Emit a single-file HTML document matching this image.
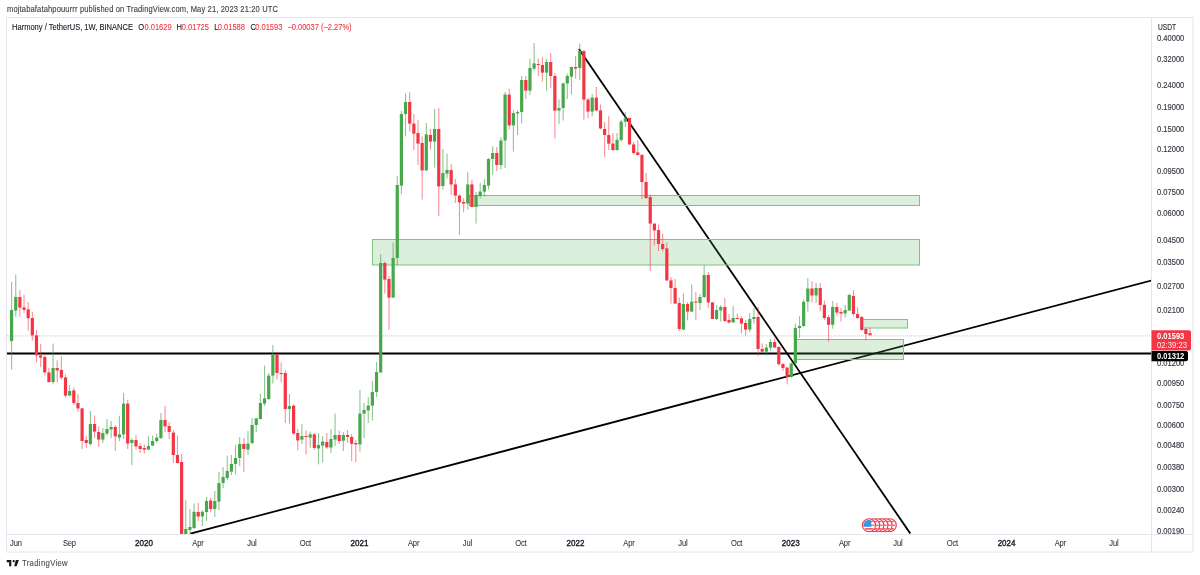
<!DOCTYPE html><html><head><meta charset="utf-8"><title>ONEUSDT chart</title><style>
html,body{margin:0;padding:0;background:#fff;width:1200px;height:575px;overflow:hidden}
svg{display:block;will-change:transform}
text{font-family:"Liberation Sans",sans-serif}
</style></head><body>
<svg width="1200" height="575" viewBox="0 0 1200 575">
<rect width="1200" height="575" fill="#fff"/>
<text transform="scale(0.86,1)" x="8.14" y="12.4" font-size="8.8" fill="#3d3d3d" textLength="315.12" lengthAdjust="spacing" stroke="#3d3d3d" stroke-width="0.12">mojtabafatahpouurrr published on TradingView.com, May 21, 2023 21:20 UTC</text>
<rect x="6.5" y="17.5" width="1186.5" height="534.5" fill="none" stroke="#e4e6ed" stroke-width="1"/>
<line x1="1151.5" y1="17.5" x2="1151.5" y2="552" stroke="#e4e6ed" stroke-width="1"/>
<line x1="6.5" y1="534.5" x2="1193" y2="534.5" stroke="#e4e6ed" stroke-width="1"/>
<defs><clipPath id="plot"><rect x="7" y="18" width="1144" height="516"/></clipPath><clipPath id="pax"><rect x="1152" y="18" width="41" height="516"/></clipPath></defs>
<g clip-path="url(#plot)">
<line x1="7" y1="335.9" x2="1151" y2="335.9" stroke="#f23645" stroke-opacity="0.4" stroke-width="1" stroke-dasharray="1 1"/>
<line x1="7" y1="353.4" x2="1151" y2="353.4" stroke="#000" stroke-width="2"/>
<line x1="190.3" y1="533.7" x2="1151.3" y2="280.5" stroke="#000" stroke-width="1.8"/>
<line x1="578.9" y1="49" x2="910.3" y2="533.6" stroke="#000" stroke-width="1.8"/>
<rect x="372.5" y="239.5" width="547.0" height="25.5" fill="rgba(76,175,80,0.2)" stroke="#7cc47f" stroke-width="1"/>
<rect x="469.5" y="195.5" width="450.0" height="10.0" fill="rgba(76,175,80,0.2)" stroke="#7cc47f" stroke-width="1"/>
<rect x="796.5" y="339.5" width="107.0" height="20.0" fill="rgba(76,175,80,0.2)" stroke="#7cc47f" stroke-width="1"/>
<rect x="862.5" y="319.5" width="45.0" height="8.5" fill="rgba(76,175,80,0.2)" stroke="#7cc47f" stroke-width="1"/>
<rect x="11.05" y="282.0" width="1.1" height="87.6" fill="rgba(67,160,71,0.6)"/>
<rect x="10.0" y="310.0" width="3.2" height="31.0" fill="#47a84b"/>
<rect x="15.19" y="274.6" width="1.1" height="42.0" fill="rgba(67,160,71,0.6)"/>
<rect x="14.14" y="297.0" width="3.2" height="13.6" fill="#47a84b"/>
<rect x="19.34" y="290.0" width="1.1" height="26.6" fill="rgba(242,54,69,0.55)"/>
<rect x="18.29" y="297.0" width="3.2" height="10.6" fill="#f23645"/>
<rect x="23.49" y="295.0" width="1.1" height="18.0" fill="rgba(242,54,69,0.55)"/>
<rect x="22.44" y="307.4" width="3.2" height="2.4" fill="#f23645"/>
<rect x="27.63" y="302.0" width="1.1" height="28.6" fill="rgba(242,54,69,0.55)"/>
<rect x="26.58" y="309.4" width="3.2" height="8.8" fill="#f23645"/>
<rect x="31.78" y="312.0" width="1.1" height="28.6" fill="rgba(242,54,69,0.55)"/>
<rect x="30.73" y="318.0" width="3.2" height="17.4" fill="#f23645"/>
<rect x="35.93" y="330.0" width="1.1" height="32.4" fill="rgba(242,54,69,0.55)"/>
<rect x="34.88" y="335.4" width="3.2" height="20.0" fill="#f23645"/>
<rect x="40.08" y="344.0" width="1.1" height="23.0" fill="rgba(242,54,69,0.55)"/>
<rect x="39.02" y="355.4" width="3.2" height="2.2" fill="#f23645"/>
<rect x="44.22" y="354.0" width="1.1" height="21.6" fill="rgba(242,54,69,0.55)"/>
<rect x="43.17" y="357.0" width="3.2" height="15.4" fill="#f23645"/>
<rect x="48.37" y="368.0" width="1.1" height="15.0" fill="rgba(242,54,69,0.55)"/>
<rect x="47.32" y="372.4" width="3.2" height="9.6" fill="#f23645"/>
<rect x="52.52" y="343.6" width="1.1" height="40.8" fill="rgba(67,160,71,0.6)"/>
<rect x="51.47" y="368.0" width="3.2" height="14.0" fill="#47a84b"/>
<rect x="56.66" y="360.4" width="1.1" height="22.0" fill="rgba(242,54,69,0.55)"/>
<rect x="55.61" y="368.0" width="3.2" height="2.4" fill="#f23645"/>
<rect x="60.81" y="356.4" width="1.1" height="23.2" fill="rgba(242,54,69,0.55)"/>
<rect x="59.76" y="370.0" width="3.2" height="7.6" fill="#f23645"/>
<rect x="64.96" y="374.4" width="1.1" height="23.2" fill="rgba(242,54,69,0.55)"/>
<rect x="63.91" y="377.4" width="3.2" height="18.2" fill="#f23645"/>
<rect x="69.1" y="385.0" width="1.1" height="11.0" fill="rgba(67,160,71,0.6)"/>
<rect x="68.05" y="391.0" width="3.2" height="4.6" fill="#47a84b"/>
<rect x="73.25" y="387.4" width="1.1" height="17.6" fill="rgba(242,54,69,0.55)"/>
<rect x="72.2" y="390.4" width="3.2" height="12.6" fill="#f23645"/>
<rect x="77.4" y="394.4" width="1.1" height="17.2" fill="rgba(242,54,69,0.55)"/>
<rect x="76.35" y="403.0" width="3.2" height="5.4" fill="#f23645"/>
<rect x="81.55" y="408.0" width="1.1" height="41.0" fill="rgba(242,54,69,0.55)"/>
<rect x="80.5" y="408.4" width="3.2" height="32.6" fill="#f23645"/>
<rect x="85.69" y="436.0" width="1.1" height="12.0" fill="rgba(242,54,69,0.55)"/>
<rect x="84.64" y="440.0" width="3.2" height="3.0" fill="#f23645"/>
<rect x="89.84" y="411.0" width="1.1" height="34.6" fill="rgba(67,160,71,0.6)"/>
<rect x="88.79" y="424.0" width="3.2" height="20.0" fill="#47a84b"/>
<rect x="93.99" y="415.6" width="1.1" height="22.4" fill="rgba(242,54,69,0.55)"/>
<rect x="92.94" y="424.0" width="3.2" height="7.6" fill="#f23645"/>
<rect x="98.13" y="426.4" width="1.1" height="20.6" fill="rgba(242,54,69,0.55)"/>
<rect x="97.08" y="432.0" width="3.2" height="7.6" fill="#f23645"/>
<rect x="102.28" y="428.0" width="1.1" height="15.0" fill="rgba(67,160,71,0.6)"/>
<rect x="101.23" y="433.0" width="3.2" height="6.6" fill="#47a84b"/>
<rect x="106.43" y="419.0" width="1.1" height="16.6" fill="rgba(67,160,71,0.6)"/>
<rect x="105.38" y="429.0" width="3.2" height="4.6" fill="#47a84b"/>
<rect x="110.57" y="421.0" width="1.1" height="17.0" fill="rgba(67,160,71,0.6)"/>
<rect x="109.52" y="427.0" width="3.2" height="2.4" fill="#47a84b"/>
<rect x="114.72" y="425.0" width="1.1" height="26.0" fill="rgba(242,54,69,0.55)"/>
<rect x="113.67" y="427.0" width="3.2" height="9.4" fill="#f23645"/>
<rect x="118.87" y="416.0" width="1.1" height="25.0" fill="rgba(67,160,71,0.6)"/>
<rect x="117.82" y="434.4" width="3.2" height="3.2" fill="#47a84b"/>
<rect x="123.02" y="393.0" width="1.1" height="46.0" fill="rgba(67,160,71,0.6)"/>
<rect x="121.97" y="403.6" width="3.2" height="30.8" fill="#47a84b"/>
<rect x="127.16" y="400.0" width="1.1" height="49.0" fill="rgba(242,54,69,0.55)"/>
<rect x="126.11" y="403.6" width="3.2" height="40.0" fill="#f23645"/>
<rect x="131.31" y="438.0" width="1.1" height="27.0" fill="rgba(67,160,71,0.6)"/>
<rect x="130.26" y="440.0" width="3.2" height="3.0" fill="#47a84b"/>
<rect x="135.46" y="435.0" width="1.1" height="14.6" fill="rgba(242,54,69,0.55)"/>
<rect x="134.41" y="440.0" width="3.2" height="6.4" fill="#f23645"/>
<rect x="139.6" y="443.6" width="1.1" height="9.4" fill="rgba(242,54,69,0.55)"/>
<rect x="138.55" y="446.0" width="3.2" height="3.0" fill="#f23645"/>
<rect x="143.75" y="444.4" width="1.1" height="9.2" fill="rgba(242,54,69,0.55)"/>
<rect x="142.7" y="448.0" width="3.2" height="1.6" fill="#f23645"/>
<rect x="147.9" y="436.0" width="1.1" height="14.0" fill="rgba(67,160,71,0.6)"/>
<rect x="146.85" y="446.0" width="3.2" height="3.6" fill="#47a84b"/>
<rect x="152.04" y="435.6" width="1.1" height="10.4" fill="rgba(67,160,71,0.6)"/>
<rect x="150.99" y="441.0" width="3.2" height="4.6" fill="#47a84b"/>
<rect x="156.19" y="433.6" width="1.1" height="9.4" fill="rgba(67,160,71,0.6)"/>
<rect x="155.14" y="437.6" width="3.2" height="3.4" fill="#47a84b"/>
<rect x="160.34" y="413.0" width="1.1" height="26.0" fill="rgba(67,160,71,0.6)"/>
<rect x="159.29" y="420.0" width="3.2" height="18.0" fill="#47a84b"/>
<rect x="164.49" y="406.0" width="1.1" height="26.4" fill="rgba(242,54,69,0.55)"/>
<rect x="163.44" y="420.0" width="3.2" height="6.4" fill="#f23645"/>
<rect x="168.63" y="422.0" width="1.1" height="17.0" fill="rgba(242,54,69,0.55)"/>
<rect x="167.58" y="426.0" width="3.2" height="6.0" fill="#f23645"/>
<rect x="172.78" y="430.0" width="1.1" height="33.0" fill="rgba(242,54,69,0.55)"/>
<rect x="171.73" y="432.6" width="3.2" height="22.4" fill="#f23645"/>
<rect x="176.93" y="435.6" width="1.1" height="28.0" fill="rgba(242,54,69,0.55)"/>
<rect x="175.88" y="455.0" width="3.2" height="8.0" fill="#f23645"/>
<rect x="181.07" y="454.0" width="1.1" height="80.0" fill="rgba(242,54,69,0.55)"/>
<rect x="180.02" y="462.0" width="3.2" height="72.0" fill="#f23645"/>
<rect x="185.22" y="500.0" width="1.1" height="34.0" fill="rgba(67,160,71,0.6)"/>
<rect x="184.17" y="529.0" width="3.2" height="5.0" fill="#47a84b"/>
<rect x="189.37" y="509.0" width="1.1" height="25.0" fill="rgba(67,160,71,0.6)"/>
<rect x="188.32" y="527.0" width="3.2" height="3.0" fill="#47a84b"/>
<rect x="193.51" y="503.6" width="1.1" height="25.4" fill="rgba(67,160,71,0.6)"/>
<rect x="192.46" y="511.8" width="3.2" height="16.2" fill="#47a84b"/>
<rect x="197.66" y="503.0" width="1.1" height="18.0" fill="rgba(242,54,69,0.55)"/>
<rect x="196.61" y="512.0" width="3.2" height="4.5" fill="#f23645"/>
<rect x="201.81" y="510.0" width="1.1" height="16.0" fill="rgba(67,160,71,0.6)"/>
<rect x="200.76" y="511.8" width="3.2" height="4.7" fill="#47a84b"/>
<rect x="205.96" y="497.0" width="1.1" height="24.0" fill="rgba(67,160,71,0.6)"/>
<rect x="204.91" y="501.0" width="3.2" height="11.0" fill="#47a84b"/>
<rect x="210.1" y="498.0" width="1.1" height="14.5" fill="rgba(242,54,69,0.55)"/>
<rect x="209.05" y="500.5" width="3.2" height="8.5" fill="#f23645"/>
<rect x="214.25" y="491.0" width="1.1" height="26.0" fill="rgba(67,160,71,0.6)"/>
<rect x="213.2" y="501.0" width="3.2" height="8.0" fill="#47a84b"/>
<rect x="218.4" y="472.0" width="1.1" height="38.0" fill="rgba(67,160,71,0.6)"/>
<rect x="217.35" y="483.0" width="3.2" height="18.6" fill="#47a84b"/>
<rect x="222.54" y="467.0" width="1.1" height="21.0" fill="rgba(67,160,71,0.6)"/>
<rect x="221.49" y="477.0" width="3.2" height="6.0" fill="#47a84b"/>
<rect x="226.69" y="455.6" width="1.1" height="24.4" fill="rgba(67,160,71,0.6)"/>
<rect x="225.64" y="471.0" width="3.2" height="7.0" fill="#47a84b"/>
<rect x="230.84" y="455.0" width="1.1" height="20.0" fill="rgba(67,160,71,0.6)"/>
<rect x="229.79" y="464.0" width="3.2" height="7.6" fill="#47a84b"/>
<rect x="234.98" y="445.0" width="1.1" height="29.4" fill="rgba(67,160,71,0.6)"/>
<rect x="233.93" y="458.0" width="3.2" height="6.0" fill="#47a84b"/>
<rect x="239.13" y="437.0" width="1.1" height="29.0" fill="rgba(67,160,71,0.6)"/>
<rect x="238.08" y="444.0" width="3.2" height="14.0" fill="#47a84b"/>
<rect x="243.28" y="438.0" width="1.1" height="34.0" fill="rgba(242,54,69,0.55)"/>
<rect x="242.23" y="444.0" width="3.2" height="5.0" fill="#f23645"/>
<rect x="247.43" y="431.0" width="1.1" height="24.0" fill="rgba(67,160,71,0.6)"/>
<rect x="246.38" y="443.6" width="3.2" height="6.0" fill="#47a84b"/>
<rect x="251.57" y="418.0" width="1.1" height="26.4" fill="rgba(67,160,71,0.6)"/>
<rect x="250.52" y="425.0" width="3.2" height="18.0" fill="#47a84b"/>
<rect x="255.72" y="418.0" width="1.1" height="14.0" fill="rgba(67,160,71,0.6)"/>
<rect x="254.67" y="418.4" width="3.2" height="6.6" fill="#47a84b"/>
<rect x="259.87" y="394.0" width="1.1" height="25.6" fill="rgba(67,160,71,0.6)"/>
<rect x="258.82" y="403.0" width="3.2" height="16.0" fill="#47a84b"/>
<rect x="264.01" y="365.6" width="1.1" height="40.4" fill="rgba(67,160,71,0.6)"/>
<rect x="262.96" y="398.4" width="3.2" height="5.2" fill="#47a84b"/>
<rect x="268.16" y="373.0" width="1.1" height="27.0" fill="rgba(67,160,71,0.6)"/>
<rect x="267.11" y="375.6" width="3.2" height="23.4" fill="#47a84b"/>
<rect x="272.31" y="345.0" width="1.1" height="38.6" fill="rgba(67,160,71,0.6)"/>
<rect x="271.26" y="354.0" width="3.2" height="21.6" fill="#47a84b"/>
<rect x="276.45" y="354.0" width="1.1" height="25.6" fill="rgba(242,54,69,0.55)"/>
<rect x="275.4" y="354.0" width="3.2" height="19.0" fill="#f23645"/>
<rect x="280.6" y="362.4" width="1.1" height="20.0" fill="rgba(242,54,69,0.55)"/>
<rect x="279.55" y="373.0" width="3.2" height="1.0" fill="#f23645"/>
<rect x="284.75" y="370.0" width="1.1" height="53.0" fill="rgba(242,54,69,0.55)"/>
<rect x="283.7" y="373.0" width="3.2" height="36.0" fill="#f23645"/>
<rect x="288.9" y="394.0" width="1.1" height="29.6" fill="rgba(67,160,71,0.6)"/>
<rect x="287.85" y="406.0" width="3.2" height="3.0" fill="#47a84b"/>
<rect x="293.04" y="404.4" width="1.1" height="30.0" fill="rgba(242,54,69,0.55)"/>
<rect x="291.99" y="405.6" width="3.2" height="28.0" fill="#f23645"/>
<rect x="297.19" y="429.0" width="1.1" height="21.4" fill="rgba(242,54,69,0.55)"/>
<rect x="296.14" y="433.0" width="3.2" height="7.4" fill="#f23645"/>
<rect x="301.34" y="424.0" width="1.1" height="20.0" fill="rgba(67,160,71,0.6)"/>
<rect x="300.29" y="436.0" width="3.2" height="3.6" fill="#47a84b"/>
<rect x="305.48" y="430.4" width="1.1" height="24.1" fill="rgba(242,54,69,0.55)"/>
<rect x="304.43" y="436.0" width="3.2" height="1.0" fill="#f23645"/>
<rect x="309.63" y="431.6" width="1.1" height="16.0" fill="rgba(67,160,71,0.6)"/>
<rect x="308.58" y="434.4" width="3.2" height="3.2" fill="#47a84b"/>
<rect x="313.78" y="433.0" width="1.1" height="17.0" fill="rgba(242,54,69,0.55)"/>
<rect x="312.73" y="434.4" width="3.2" height="13.6" fill="#f23645"/>
<rect x="317.92" y="433.0" width="1.1" height="31.4" fill="rgba(67,160,71,0.6)"/>
<rect x="316.87" y="445.0" width="3.2" height="3.5" fill="#47a84b"/>
<rect x="322.07" y="436.0" width="1.1" height="26.4" fill="rgba(67,160,71,0.6)"/>
<rect x="321.02" y="441.6" width="3.2" height="4.0" fill="#47a84b"/>
<rect x="326.22" y="433.0" width="1.1" height="16.0" fill="rgba(242,54,69,0.55)"/>
<rect x="325.17" y="442.0" width="3.2" height="5.4" fill="#f23645"/>
<rect x="330.37" y="429.0" width="1.1" height="24.0" fill="rgba(67,160,71,0.6)"/>
<rect x="329.31" y="439.0" width="3.2" height="8.5" fill="#47a84b"/>
<rect x="334.51" y="413.6" width="1.1" height="32.4" fill="rgba(67,160,71,0.6)"/>
<rect x="333.46" y="435.0" width="3.2" height="4.5" fill="#47a84b"/>
<rect x="338.66" y="430.4" width="1.1" height="13.4" fill="rgba(242,54,69,0.55)"/>
<rect x="337.61" y="435.0" width="3.2" height="6.0" fill="#f23645"/>
<rect x="342.81" y="432.0" width="1.1" height="19.0" fill="rgba(67,160,71,0.6)"/>
<rect x="341.76" y="435.0" width="3.2" height="5.7" fill="#47a84b"/>
<rect x="346.95" y="430.0" width="1.1" height="13.0" fill="rgba(242,54,69,0.55)"/>
<rect x="345.9" y="435.0" width="3.2" height="2.0" fill="#f23645"/>
<rect x="351.1" y="434.0" width="1.1" height="27.0" fill="rgba(242,54,69,0.55)"/>
<rect x="350.05" y="437.0" width="3.2" height="6.8" fill="#f23645"/>
<rect x="355.25" y="440.0" width="1.1" height="22.0" fill="rgba(242,54,69,0.55)"/>
<rect x="354.2" y="443.0" width="3.2" height="1.4" fill="#f23645"/>
<rect x="359.39" y="390.0" width="1.1" height="61.6" fill="rgba(67,160,71,0.6)"/>
<rect x="358.34" y="413.6" width="3.2" height="30.8" fill="#47a84b"/>
<rect x="363.54" y="403.0" width="1.1" height="35.0" fill="rgba(67,160,71,0.6)"/>
<rect x="362.49" y="410.0" width="3.2" height="3.6" fill="#47a84b"/>
<rect x="367.69" y="397.0" width="1.1" height="26.0" fill="rgba(67,160,71,0.6)"/>
<rect x="366.64" y="405.6" width="3.2" height="4.8" fill="#47a84b"/>
<rect x="371.83" y="381.0" width="1.1" height="39.4" fill="rgba(67,160,71,0.6)"/>
<rect x="370.78" y="392.0" width="3.2" height="13.6" fill="#47a84b"/>
<rect x="375.98" y="362.0" width="1.1" height="35.0" fill="rgba(67,160,71,0.6)"/>
<rect x="374.93" y="372.0" width="3.2" height="20.0" fill="#47a84b"/>
<rect x="380.13" y="254.0" width="1.1" height="119.0" fill="rgba(67,160,71,0.6)"/>
<rect x="379.08" y="263.0" width="3.2" height="109.4" fill="#47a84b"/>
<rect x="384.28" y="261.6" width="1.1" height="32.0" fill="rgba(242,54,69,0.55)"/>
<rect x="383.23" y="263.0" width="3.2" height="16.6" fill="#f23645"/>
<rect x="388.42" y="276.0" width="1.1" height="53.6" fill="rgba(242,54,69,0.55)"/>
<rect x="387.37" y="279.0" width="3.2" height="18.6" fill="#f23645"/>
<rect x="392.57" y="242.4" width="1.1" height="55.6" fill="rgba(67,160,71,0.6)"/>
<rect x="391.52" y="258.0" width="3.2" height="39.6" fill="#47a84b"/>
<rect x="396.72" y="176.0" width="1.1" height="89.0" fill="rgba(67,160,71,0.6)"/>
<rect x="395.67" y="185.0" width="3.2" height="73.0" fill="#47a84b"/>
<rect x="400.86" y="111.0" width="1.1" height="83.0" fill="rgba(67,160,71,0.6)"/>
<rect x="399.81" y="114.0" width="3.2" height="71.6" fill="#47a84b"/>
<rect x="405.01" y="93.6" width="1.1" height="42.8" fill="rgba(67,160,71,0.6)"/>
<rect x="403.96" y="102.0" width="3.2" height="12.0" fill="#47a84b"/>
<rect x="409.16" y="92.0" width="1.1" height="39.6" fill="rgba(242,54,69,0.55)"/>
<rect x="408.11" y="102.0" width="3.2" height="21.6" fill="#f23645"/>
<rect x="413.31" y="114.0" width="1.1" height="36.0" fill="rgba(242,54,69,0.55)"/>
<rect x="412.25" y="123.6" width="3.2" height="10.0" fill="#f23645"/>
<rect x="417.45" y="120.0" width="1.1" height="45.0" fill="rgba(242,54,69,0.55)"/>
<rect x="416.4" y="133.0" width="3.2" height="10.6" fill="#f23645"/>
<rect x="421.6" y="136.4" width="1.1" height="63.2" fill="rgba(242,54,69,0.55)"/>
<rect x="420.55" y="143.0" width="3.2" height="27.4" fill="#f23645"/>
<rect x="425.75" y="123.0" width="1.1" height="48.0" fill="rgba(67,160,71,0.6)"/>
<rect x="424.7" y="134.4" width="3.2" height="36.0" fill="#47a84b"/>
<rect x="429.89" y="129.0" width="1.1" height="20.6" fill="rgba(242,54,69,0.55)"/>
<rect x="428.84" y="135.0" width="3.2" height="6.6" fill="#f23645"/>
<rect x="434.04" y="109.0" width="1.1" height="58.6" fill="rgba(67,160,71,0.6)"/>
<rect x="432.99" y="129.0" width="3.2" height="12.6" fill="#47a84b"/>
<rect x="438.19" y="108.0" width="1.1" height="108.0" fill="rgba(242,54,69,0.55)"/>
<rect x="437.14" y="129.0" width="3.2" height="57.4" fill="#f23645"/>
<rect x="442.33" y="149.0" width="1.1" height="40.6" fill="rgba(67,160,71,0.6)"/>
<rect x="441.28" y="173.0" width="3.2" height="13.0" fill="#47a84b"/>
<rect x="446.48" y="153.6" width="1.1" height="24.8" fill="rgba(67,160,71,0.6)"/>
<rect x="445.43" y="170.0" width="3.2" height="3.6" fill="#47a84b"/>
<rect x="450.63" y="164.0" width="1.1" height="31.0" fill="rgba(242,54,69,0.55)"/>
<rect x="449.58" y="170.0" width="3.2" height="14.4" fill="#f23645"/>
<rect x="454.78" y="179.0" width="1.1" height="24.0" fill="rgba(242,54,69,0.55)"/>
<rect x="453.73" y="184.4" width="3.2" height="11.2" fill="#f23645"/>
<rect x="458.92" y="194.4" width="1.1" height="40.6" fill="rgba(242,54,69,0.55)"/>
<rect x="457.87" y="195.6" width="3.2" height="6.8" fill="#f23645"/>
<rect x="463.07" y="198.0" width="1.1" height="14.4" fill="rgba(242,54,69,0.55)"/>
<rect x="462.02" y="202.0" width="3.2" height="1.6" fill="#f23645"/>
<rect x="467.22" y="172.0" width="1.1" height="37.6" fill="rgba(67,160,71,0.6)"/>
<rect x="466.17" y="184.4" width="3.2" height="19.2" fill="#47a84b"/>
<rect x="471.36" y="179.6" width="1.1" height="27.4" fill="rgba(242,54,69,0.55)"/>
<rect x="470.31" y="184.4" width="3.2" height="22.6" fill="#f23645"/>
<rect x="475.51" y="192.0" width="1.1" height="31.6" fill="rgba(67,160,71,0.6)"/>
<rect x="474.46" y="195.0" width="3.2" height="12.0" fill="#47a84b"/>
<rect x="479.66" y="183.0" width="1.1" height="15.4" fill="rgba(67,160,71,0.6)"/>
<rect x="478.61" y="191.6" width="3.2" height="4.4" fill="#47a84b"/>
<rect x="483.8" y="179.0" width="1.1" height="17.4" fill="rgba(67,160,71,0.6)"/>
<rect x="482.75" y="185.0" width="3.2" height="6.6" fill="#47a84b"/>
<rect x="487.95" y="158.0" width="1.1" height="31.6" fill="rgba(67,160,71,0.6)"/>
<rect x="486.9" y="159.0" width="3.2" height="26.6" fill="#47a84b"/>
<rect x="492.1" y="146.4" width="1.1" height="28.6" fill="rgba(67,160,71,0.6)"/>
<rect x="491.05" y="153.0" width="3.2" height="6.0" fill="#47a84b"/>
<rect x="496.25" y="147.0" width="1.1" height="24.0" fill="rgba(242,54,69,0.55)"/>
<rect x="495.19" y="153.0" width="3.2" height="12.0" fill="#f23645"/>
<rect x="500.39" y="137.3" width="1.1" height="32.3" fill="rgba(67,160,71,0.6)"/>
<rect x="499.34" y="140.5" width="3.2" height="24.5" fill="#47a84b"/>
<rect x="504.54" y="92.0" width="1.1" height="76.0" fill="rgba(67,160,71,0.6)"/>
<rect x="503.49" y="94.6" width="3.2" height="45.9" fill="#47a84b"/>
<rect x="508.69" y="89.0" width="1.1" height="40.4" fill="rgba(242,54,69,0.55)"/>
<rect x="507.64" y="94.6" width="3.2" height="30.8" fill="#f23645"/>
<rect x="512.83" y="110.6" width="1.1" height="41.0" fill="rgba(67,160,71,0.6)"/>
<rect x="511.78" y="113.0" width="3.2" height="12.4" fill="#47a84b"/>
<rect x="516.98" y="110.0" width="1.1" height="25.0" fill="rgba(67,160,71,0.6)"/>
<rect x="515.93" y="112.0" width="3.2" height="1.4" fill="#47a84b"/>
<rect x="521.13" y="76.0" width="1.1" height="47.4" fill="rgba(67,160,71,0.6)"/>
<rect x="520.08" y="80.0" width="3.2" height="32.0" fill="#47a84b"/>
<rect x="525.27" y="76.0" width="1.1" height="23.0" fill="rgba(242,54,69,0.55)"/>
<rect x="524.22" y="80.0" width="3.2" height="10.6" fill="#f23645"/>
<rect x="529.42" y="58.6" width="1.1" height="36.4" fill="rgba(67,160,71,0.6)"/>
<rect x="528.37" y="68.0" width="3.2" height="22.6" fill="#47a84b"/>
<rect x="533.57" y="43.0" width="1.1" height="27.6" fill="rgba(67,160,71,0.6)"/>
<rect x="532.52" y="63.4" width="3.2" height="5.2" fill="#47a84b"/>
<rect x="537.72" y="58.6" width="1.1" height="17.4" fill="rgba(242,54,69,0.55)"/>
<rect x="536.67" y="64.0" width="3.2" height="1.0" fill="#f23645"/>
<rect x="541.86" y="57.0" width="1.1" height="24.4" fill="rgba(242,54,69,0.55)"/>
<rect x="540.81" y="65.0" width="3.2" height="7.6" fill="#f23645"/>
<rect x="546.01" y="59.0" width="1.1" height="31.6" fill="rgba(67,160,71,0.6)"/>
<rect x="544.96" y="62.0" width="3.2" height="10.6" fill="#47a84b"/>
<rect x="550.16" y="53.0" width="1.1" height="35.0" fill="rgba(242,54,69,0.55)"/>
<rect x="549.11" y="62.0" width="3.2" height="14.0" fill="#f23645"/>
<rect x="554.3" y="73.0" width="1.1" height="65.6" fill="rgba(242,54,69,0.55)"/>
<rect x="553.25" y="76.0" width="3.2" height="34.6" fill="#f23645"/>
<rect x="558.45" y="99.4" width="1.1" height="24.6" fill="rgba(67,160,71,0.6)"/>
<rect x="557.4" y="108.0" width="3.2" height="2.6" fill="#47a84b"/>
<rect x="562.6" y="82.6" width="1.1" height="38.0" fill="rgba(67,160,71,0.6)"/>
<rect x="561.55" y="83.4" width="3.2" height="24.6" fill="#47a84b"/>
<rect x="566.74" y="73.4" width="1.1" height="25.6" fill="rgba(67,160,71,0.6)"/>
<rect x="565.69" y="76.0" width="3.2" height="7.4" fill="#47a84b"/>
<rect x="570.89" y="66.6" width="1.1" height="28.0" fill="rgba(67,160,71,0.6)"/>
<rect x="569.84" y="67.0" width="3.2" height="9.6" fill="#47a84b"/>
<rect x="575.04" y="56.0" width="1.1" height="22.6" fill="rgba(242,54,69,0.55)"/>
<rect x="573.99" y="67.0" width="3.2" height="1.6" fill="#f23645"/>
<rect x="579.19" y="43.6" width="1.1" height="36.4" fill="rgba(67,160,71,0.6)"/>
<rect x="578.13" y="51.0" width="3.2" height="17.0" fill="#47a84b"/>
<rect x="583.33" y="50.0" width="1.1" height="69.6" fill="rgba(242,54,69,0.55)"/>
<rect x="582.28" y="51.0" width="3.2" height="48.6" fill="#f23645"/>
<rect x="587.48" y="98.0" width="1.1" height="20.4" fill="rgba(242,54,69,0.55)"/>
<rect x="586.43" y="99.6" width="3.2" height="12.0" fill="#f23645"/>
<rect x="591.63" y="94.0" width="1.1" height="22.4" fill="rgba(67,160,71,0.6)"/>
<rect x="590.58" y="97.6" width="3.2" height="14.0" fill="#47a84b"/>
<rect x="595.77" y="87.0" width="1.1" height="24.6" fill="rgba(242,54,69,0.55)"/>
<rect x="594.72" y="97.6" width="3.2" height="12.8" fill="#f23645"/>
<rect x="599.92" y="104.4" width="1.1" height="25.2" fill="rgba(242,54,69,0.55)"/>
<rect x="598.87" y="110.4" width="3.2" height="18.0" fill="#f23645"/>
<rect x="604.07" y="122.0" width="1.1" height="35.0" fill="rgba(242,54,69,0.55)"/>
<rect x="603.02" y="129.0" width="3.2" height="6.0" fill="#f23645"/>
<rect x="608.21" y="116.0" width="1.1" height="34.0" fill="rgba(242,54,69,0.55)"/>
<rect x="607.16" y="135.0" width="3.2" height="8.6" fill="#f23645"/>
<rect x="612.36" y="133.0" width="1.1" height="18.0" fill="rgba(242,54,69,0.55)"/>
<rect x="611.31" y="143.6" width="3.2" height="6.4" fill="#f23645"/>
<rect x="616.51" y="133.0" width="1.1" height="17.7" fill="rgba(67,160,71,0.6)"/>
<rect x="615.46" y="139.8" width="3.2" height="10.2" fill="#47a84b"/>
<rect x="620.66" y="120.0" width="1.1" height="22.0" fill="rgba(67,160,71,0.6)"/>
<rect x="619.61" y="121.6" width="3.2" height="18.4" fill="#47a84b"/>
<rect x="624.8" y="112.0" width="1.1" height="15.0" fill="rgba(67,160,71,0.6)"/>
<rect x="623.75" y="118.4" width="3.2" height="3.2" fill="#47a84b"/>
<rect x="628.95" y="117.6" width="1.1" height="27.4" fill="rgba(242,54,69,0.55)"/>
<rect x="627.9" y="118.0" width="3.2" height="26.4" fill="#f23645"/>
<rect x="633.1" y="142.0" width="1.1" height="13.0" fill="rgba(242,54,69,0.55)"/>
<rect x="632.05" y="144.4" width="3.2" height="8.6" fill="#f23645"/>
<rect x="637.24" y="140.4" width="1.1" height="15.2" fill="rgba(242,54,69,0.55)"/>
<rect x="636.19" y="152.4" width="3.2" height="2.6" fill="#f23645"/>
<rect x="641.39" y="154.0" width="1.1" height="45.0" fill="rgba(242,54,69,0.55)"/>
<rect x="640.34" y="155.0" width="3.2" height="27.0" fill="#f23645"/>
<rect x="645.54" y="173.0" width="1.1" height="26.0" fill="rgba(242,54,69,0.55)"/>
<rect x="644.49" y="182.0" width="3.2" height="16.0" fill="#f23645"/>
<rect x="649.68" y="194.4" width="1.1" height="76.6" fill="rgba(242,54,69,0.55)"/>
<rect x="648.63" y="197.0" width="3.2" height="26.6" fill="#f23645"/>
<rect x="653.83" y="223.6" width="1.1" height="22.0" fill="rgba(242,54,69,0.55)"/>
<rect x="652.78" y="223.6" width="3.2" height="6.8" fill="#f23645"/>
<rect x="657.98" y="224.4" width="1.1" height="26.6" fill="rgba(242,54,69,0.55)"/>
<rect x="656.93" y="230.0" width="3.2" height="14.0" fill="#f23645"/>
<rect x="662.12" y="233.6" width="1.1" height="18.0" fill="rgba(242,54,69,0.55)"/>
<rect x="661.07" y="244.0" width="3.2" height="5.0" fill="#f23645"/>
<rect x="666.27" y="242.4" width="1.1" height="38.6" fill="rgba(242,54,69,0.55)"/>
<rect x="665.22" y="248.4" width="3.2" height="32.0" fill="#f23645"/>
<rect x="670.42" y="277.0" width="1.1" height="26.6" fill="rgba(242,54,69,0.55)"/>
<rect x="669.37" y="280.4" width="3.2" height="7.6" fill="#f23645"/>
<rect x="674.57" y="279.0" width="1.1" height="24.6" fill="rgba(242,54,69,0.55)"/>
<rect x="673.52" y="288.0" width="3.2" height="15.6" fill="#f23645"/>
<rect x="678.71" y="297.6" width="1.1" height="33.4" fill="rgba(242,54,69,0.55)"/>
<rect x="677.66" y="303.0" width="3.2" height="26.0" fill="#f23645"/>
<rect x="682.86" y="293.6" width="1.1" height="36.4" fill="rgba(67,160,71,0.6)"/>
<rect x="681.81" y="304.0" width="3.2" height="25.6" fill="#47a84b"/>
<rect x="687.01" y="302.0" width="1.1" height="18.4" fill="rgba(242,54,69,0.55)"/>
<rect x="685.96" y="304.0" width="3.2" height="7.6" fill="#f23645"/>
<rect x="691.15" y="284.4" width="1.1" height="27.6" fill="rgba(67,160,71,0.6)"/>
<rect x="690.1" y="301.6" width="3.2" height="10.0" fill="#47a84b"/>
<rect x="695.3" y="292.0" width="1.1" height="28.0" fill="rgba(242,54,69,0.55)"/>
<rect x="694.25" y="301.6" width="3.2" height="1.0" fill="#f23645"/>
<rect x="699.45" y="294.0" width="1.1" height="16.0" fill="rgba(67,160,71,0.6)"/>
<rect x="698.4" y="297.0" width="3.2" height="6.0" fill="#47a84b"/>
<rect x="703.6" y="265.0" width="1.1" height="33.0" fill="rgba(67,160,71,0.6)"/>
<rect x="702.54" y="275.0" width="3.2" height="22.0" fill="#47a84b"/>
<rect x="707.74" y="272.0" width="1.1" height="36.0" fill="rgba(242,54,69,0.55)"/>
<rect x="706.69" y="275.0" width="3.2" height="27.4" fill="#f23645"/>
<rect x="711.89" y="302.0" width="1.1" height="17.0" fill="rgba(242,54,69,0.55)"/>
<rect x="710.84" y="302.4" width="3.2" height="16.6" fill="#f23645"/>
<rect x="716.04" y="305.0" width="1.1" height="15.0" fill="rgba(67,160,71,0.6)"/>
<rect x="714.99" y="310.0" width="3.2" height="9.0" fill="#47a84b"/>
<rect x="720.18" y="305.0" width="1.1" height="16.6" fill="rgba(67,160,71,0.6)"/>
<rect x="719.13" y="307.0" width="3.2" height="3.4" fill="#47a84b"/>
<rect x="724.33" y="298.0" width="1.1" height="24.0" fill="rgba(242,54,69,0.55)"/>
<rect x="723.28" y="307.0" width="3.2" height="14.0" fill="#f23645"/>
<rect x="728.48" y="314.0" width="1.1" height="10.0" fill="rgba(242,54,69,0.55)"/>
<rect x="727.43" y="320.0" width="3.2" height="2.4" fill="#f23645"/>
<rect x="732.62" y="306.0" width="1.1" height="17.0" fill="rgba(67,160,71,0.6)"/>
<rect x="731.57" y="318.0" width="3.2" height="4.4" fill="#47a84b"/>
<rect x="736.77" y="313.6" width="1.1" height="6.0" fill="rgba(242,54,69,0.55)"/>
<rect x="735.72" y="318.0" width="3.2" height="1.0" fill="#f23645"/>
<rect x="740.92" y="316.4" width="1.1" height="17.2" fill="rgba(242,54,69,0.55)"/>
<rect x="739.87" y="318.4" width="3.2" height="5.2" fill="#f23645"/>
<rect x="745.07" y="320.0" width="1.1" height="15.6" fill="rgba(242,54,69,0.55)"/>
<rect x="744.01" y="323.0" width="3.2" height="6.6" fill="#f23645"/>
<rect x="749.21" y="313.0" width="1.1" height="19.4" fill="rgba(67,160,71,0.6)"/>
<rect x="748.16" y="319.0" width="3.2" height="10.6" fill="#47a84b"/>
<rect x="753.36" y="308.0" width="1.1" height="15.6" fill="rgba(67,160,71,0.6)"/>
<rect x="752.31" y="317.0" width="3.2" height="2.0" fill="#47a84b"/>
<rect x="757.51" y="307.0" width="1.1" height="49.0" fill="rgba(242,54,69,0.55)"/>
<rect x="756.46" y="317.0" width="3.2" height="32.0" fill="#f23645"/>
<rect x="761.65" y="343.3" width="1.1" height="9.1" fill="rgba(242,54,69,0.55)"/>
<rect x="760.6" y="349.0" width="3.2" height="2.6" fill="#f23645"/>
<rect x="765.8" y="344.0" width="1.1" height="11.5" fill="rgba(67,160,71,0.6)"/>
<rect x="764.75" y="347.6" width="3.2" height="4.0" fill="#47a84b"/>
<rect x="769.95" y="339.0" width="1.1" height="12.0" fill="rgba(67,160,71,0.6)"/>
<rect x="768.9" y="342.0" width="3.2" height="5.6" fill="#47a84b"/>
<rect x="774.09" y="338.6" width="1.1" height="9.4" fill="rgba(242,54,69,0.55)"/>
<rect x="773.04" y="342.0" width="3.2" height="5.6" fill="#f23645"/>
<rect x="778.24" y="346.5" width="1.1" height="19.5" fill="rgba(242,54,69,0.55)"/>
<rect x="777.19" y="347.0" width="3.2" height="17.2" fill="#f23645"/>
<rect x="782.39" y="363.0" width="1.1" height="8.0" fill="rgba(242,54,69,0.55)"/>
<rect x="781.34" y="364.0" width="3.2" height="4.0" fill="#f23645"/>
<rect x="786.54" y="366.5" width="1.1" height="17.9" fill="rgba(242,54,69,0.55)"/>
<rect x="785.49" y="367.6" width="3.2" height="9.4" fill="#f23645"/>
<rect x="790.68" y="362.0" width="1.1" height="16.0" fill="rgba(67,160,71,0.6)"/>
<rect x="789.63" y="363.6" width="3.2" height="13.4" fill="#47a84b"/>
<rect x="794.83" y="323.6" width="1.1" height="40.4" fill="rgba(67,160,71,0.6)"/>
<rect x="793.78" y="328.0" width="3.2" height="35.3" fill="#47a84b"/>
<rect x="798.98" y="316.2" width="1.1" height="21.8" fill="rgba(67,160,71,0.6)"/>
<rect x="797.93" y="326.0" width="3.2" height="2.0" fill="#47a84b"/>
<rect x="803.12" y="299.5" width="1.1" height="27.5" fill="rgba(67,160,71,0.6)"/>
<rect x="802.07" y="301.8" width="3.2" height="24.2" fill="#47a84b"/>
<rect x="807.27" y="278.0" width="1.1" height="33.5" fill="rgba(67,160,71,0.6)"/>
<rect x="806.22" y="288.5" width="3.2" height="13.1" fill="#47a84b"/>
<rect x="811.42" y="281.2" width="1.1" height="21.4" fill="rgba(242,54,69,0.55)"/>
<rect x="810.37" y="288.5" width="3.2" height="7.0" fill="#f23645"/>
<rect x="815.56" y="283.0" width="1.1" height="20.0" fill="rgba(67,160,71,0.6)"/>
<rect x="814.51" y="288.0" width="3.2" height="7.4" fill="#47a84b"/>
<rect x="819.71" y="283.0" width="1.1" height="28.4" fill="rgba(242,54,69,0.55)"/>
<rect x="818.66" y="288.0" width="3.2" height="17.0" fill="#f23645"/>
<rect x="823.86" y="300.5" width="1.1" height="19.5" fill="rgba(242,54,69,0.55)"/>
<rect x="822.81" y="304.8" width="3.2" height="13.2" fill="#f23645"/>
<rect x="828.01" y="315.0" width="1.1" height="26.6" fill="rgba(242,54,69,0.55)"/>
<rect x="826.96" y="317.3" width="3.2" height="7.5" fill="#f23645"/>
<rect x="832.15" y="301.0" width="1.1" height="27.8" fill="rgba(67,160,71,0.6)"/>
<rect x="831.1" y="307.0" width="3.2" height="17.8" fill="#47a84b"/>
<rect x="836.3" y="303.0" width="1.1" height="12.5" fill="rgba(242,54,69,0.55)"/>
<rect x="835.25" y="307.0" width="3.2" height="5.5" fill="#f23645"/>
<rect x="840.45" y="308.0" width="1.1" height="13.5" fill="rgba(242,54,69,0.55)"/>
<rect x="839.4" y="312.0" width="3.2" height="1.5" fill="#f23645"/>
<rect x="844.59" y="305.0" width="1.1" height="12.2" fill="rgba(67,160,71,0.6)"/>
<rect x="843.54" y="310.0" width="3.2" height="3.5" fill="#47a84b"/>
<rect x="848.74" y="293.4" width="1.1" height="17.6" fill="rgba(67,160,71,0.6)"/>
<rect x="847.69" y="295.0" width="3.2" height="15.5" fill="#47a84b"/>
<rect x="852.89" y="290.0" width="1.1" height="26.6" fill="rgba(242,54,69,0.55)"/>
<rect x="851.84" y="296.0" width="3.2" height="18.0" fill="#f23645"/>
<rect x="857.03" y="307.4" width="1.1" height="11.6" fill="rgba(242,54,69,0.55)"/>
<rect x="855.98" y="314.0" width="3.2" height="4.0" fill="#f23645"/>
<rect x="861.18" y="316.0" width="1.1" height="14.6" fill="rgba(242,54,69,0.55)"/>
<rect x="860.13" y="317.0" width="3.2" height="13.0" fill="#f23645"/>
<rect x="865.33" y="328.0" width="1.1" height="12.6" fill="rgba(242,54,69,0.55)"/>
<rect x="864.28" y="329.0" width="3.2" height="5.0" fill="#f23645"/>
<rect x="869.48" y="327.9" width="1.1" height="7.6" fill="rgba(242,54,69,0.55)"/>
<rect x="868.43" y="333.2" width="3.2" height="2.0" fill="#f23645"/>
</g>
<defs><clipPath id="fc0"><circle cx="869.00" cy="525.3" r="5.5"/></clipPath><clipPath id="fc1"><circle cx="873.15" cy="525.3" r="5.5"/></clipPath><clipPath id="fc2"><circle cx="877.29" cy="525.3" r="5.5"/></clipPath><clipPath id="fc3"><circle cx="881.44" cy="525.3" r="5.5"/></clipPath><clipPath id="fc4"><circle cx="885.59" cy="525.3" r="5.5"/></clipPath><clipPath id="fc5"><circle cx="889.74" cy="525.3" r="5.5"/></clipPath></defs><circle cx="889.74" cy="525.3" r="6.5" fill="#fff" stroke="#f23645" stroke-width="1.1"/><g clip-path="url(#fc5)" fill="#f23645"><rect x="883.74" y="521.10" width="12" height="1.0"/><rect x="883.74" y="524.70" width="12" height="1.0"/><rect x="883.74" y="528.20" width="12" height="1.4"/></g><circle cx="885.59" cy="525.3" r="6.5" fill="#fff" stroke="#f23645" stroke-width="1.1"/><g clip-path="url(#fc4)" fill="#f23645"><rect x="879.59" y="521.10" width="12" height="1.0"/><rect x="879.59" y="524.70" width="12" height="1.0"/><rect x="879.59" y="528.20" width="12" height="1.4"/></g><circle cx="881.44" cy="525.3" r="6.5" fill="#fff" stroke="#f23645" stroke-width="1.1"/><g clip-path="url(#fc3)" fill="#f23645"><rect x="875.44" y="521.10" width="12" height="1.0"/><rect x="875.44" y="524.70" width="12" height="1.0"/><rect x="875.44" y="528.20" width="12" height="1.4"/></g><circle cx="877.29" cy="525.3" r="6.5" fill="#fff" stroke="#f23645" stroke-width="1.1"/><g clip-path="url(#fc2)" fill="#f23645"><rect x="871.29" y="521.10" width="12" height="1.0"/><rect x="871.29" y="524.70" width="12" height="1.0"/><rect x="871.29" y="528.20" width="12" height="1.4"/></g><circle cx="873.15" cy="525.3" r="6.5" fill="#fff" stroke="#f23645" stroke-width="1.1"/><g clip-path="url(#fc1)" fill="#f23645"><rect x="867.15" y="521.10" width="12" height="1.0"/><rect x="867.15" y="524.70" width="12" height="1.0"/><rect x="867.15" y="528.20" width="12" height="1.4"/></g><circle cx="869.00" cy="525.3" r="6.5" fill="#fff" stroke="#f23645" stroke-width="1.1"/><g clip-path="url(#fc0)" fill="#f23645"><rect x="863.00" y="521.10" width="12" height="1.0"/><rect x="863.00" y="524.70" width="12" height="1.0"/><rect x="863.00" y="528.20" width="12" height="1.4"/><rect x="863.00" y="519.30" width="8.3" height="7.5" fill="#3f92e6"/></g>
<g clip-path="url(#pax)">
<text x="1158" y="29.5" font-size="9.2" fill="#363a45" stroke="#363a45" stroke-width="0.2" textLength="18" lengthAdjust="spacingAndGlyphs">USDT</text>
<text x="1157" y="41.2" font-size="8.4" fill="#363a45" stroke="#363a45" stroke-width="0.15" textLength="27.3" lengthAdjust="spacingAndGlyphs">0.40000</text>
<text x="1157" y="62.1" font-size="8.4" fill="#363a45" stroke="#363a45" stroke-width="0.15" textLength="27.3" lengthAdjust="spacingAndGlyphs">0.32000</text>
<text x="1157" y="87.9" font-size="8.4" fill="#363a45" stroke="#363a45" stroke-width="0.15" textLength="27.3" lengthAdjust="spacingAndGlyphs">0.24000</text>
<text x="1157" y="109.6" font-size="8.4" fill="#363a45" stroke="#363a45" stroke-width="0.15" textLength="27.3" lengthAdjust="spacingAndGlyphs">0.19000</text>
<text x="1157" y="131.7" font-size="8.4" fill="#363a45" stroke="#363a45" stroke-width="0.15" textLength="27.3" lengthAdjust="spacingAndGlyphs">0.15000</text>
<text x="1157" y="151.8" font-size="8.4" fill="#363a45" stroke="#363a45" stroke-width="0.15" textLength="27.3" lengthAdjust="spacingAndGlyphs">0.12000</text>
<text x="1157" y="173.5" font-size="8.4" fill="#363a45" stroke="#363a45" stroke-width="0.15" textLength="27.3" lengthAdjust="spacingAndGlyphs">0.09500</text>
<text x="1157" y="194.9" font-size="8.4" fill="#363a45" stroke="#363a45" stroke-width="0.15" textLength="27.3" lengthAdjust="spacingAndGlyphs">0.07500</text>
<text x="1157" y="216.0" font-size="8.4" fill="#363a45" stroke="#363a45" stroke-width="0.15" textLength="27.3" lengthAdjust="spacingAndGlyphs">0.06000</text>
<text x="1157" y="242.6" font-size="8.4" fill="#363a45" stroke="#363a45" stroke-width="0.15" textLength="27.3" lengthAdjust="spacingAndGlyphs">0.04500</text>
<text x="1157" y="265.3" font-size="8.4" fill="#363a45" stroke="#363a45" stroke-width="0.15" textLength="27.3" lengthAdjust="spacingAndGlyphs">0.03500</text>
<text x="1157" y="289.0" font-size="8.4" fill="#363a45" stroke="#363a45" stroke-width="0.15" textLength="27.3" lengthAdjust="spacingAndGlyphs">0.02700</text>
<text x="1157" y="312.5" font-size="8.4" fill="#363a45" stroke="#363a45" stroke-width="0.15" textLength="27.3" lengthAdjust="spacingAndGlyphs">0.02100</text>
<text x="1157" y="366.1" font-size="8.4" fill="#363a45" stroke="#363a45" stroke-width="0.15" textLength="27.3" lengthAdjust="spacingAndGlyphs">0.01200</text>
<text x="1157" y="386.1" font-size="8.4" fill="#363a45" stroke="#363a45" stroke-width="0.15" textLength="27.3" lengthAdjust="spacingAndGlyphs">0.00950</text>
<text x="1157" y="407.5" font-size="8.4" fill="#363a45" stroke="#363a45" stroke-width="0.15" textLength="27.3" lengthAdjust="spacingAndGlyphs">0.00750</text>
<text x="1157" y="428.3" font-size="8.4" fill="#363a45" stroke="#363a45" stroke-width="0.15" textLength="27.3" lengthAdjust="spacingAndGlyphs">0.00600</text>
<text x="1157" y="448.2" font-size="8.4" fill="#363a45" stroke="#363a45" stroke-width="0.15" textLength="27.3" lengthAdjust="spacingAndGlyphs">0.00480</text>
<text x="1157" y="470.3" font-size="8.4" fill="#363a45" stroke="#363a45" stroke-width="0.15" textLength="27.3" lengthAdjust="spacingAndGlyphs">0.00380</text>
<text x="1157" y="491.9" font-size="8.4" fill="#363a45" stroke="#363a45" stroke-width="0.15" textLength="27.3" lengthAdjust="spacingAndGlyphs">0.00300</text>
<text x="1157" y="512.6" font-size="8.4" fill="#363a45" stroke="#363a45" stroke-width="0.15" textLength="27.3" lengthAdjust="spacingAndGlyphs">0.00240</text>
<text x="1157" y="533.6" font-size="8.4" fill="#363a45" stroke="#363a45" stroke-width="0.15" textLength="27.3" lengthAdjust="spacingAndGlyphs">0.00190</text>
</g>
<path d="M1151.5,330.3 H1189 a2,2 0 0 1 2,2 V348.4 a2,2 0 0 1 -2,2 H1151.5 Z" fill="#f23645"/>
<text x="1157" y="338.8" font-size="8.6" font-weight="bold" fill="#fff" textLength="27.3" lengthAdjust="spacingAndGlyphs">0.01593</text>
<text x="1157" y="347.9" font-size="8.4" fill="#fff" fill-opacity="0.9" textLength="30" lengthAdjust="spacingAndGlyphs">02:39:23</text>
<path d="M1151.5,350.9 H1186 a2,2 0 0 1 2,2 V359.3 a2,2 0 0 1 -2,2 H1151.5 Z" fill="#000"/>
<text x="1157" y="359.2" font-size="8.6" font-weight="bold" fill="#fff" textLength="27.3" lengthAdjust="spacingAndGlyphs">0.01312</text>
<text transform="scale(0.88,1)" x="18.18" y="545.7" font-size="8.6" fill="#363a45" text-anchor="middle" textLength="13.47" lengthAdjust="spacing" stroke="#363a45" stroke-width="0.1">Jun</text>
<text transform="scale(0.88,1)" x="78.98" y="545.7" font-size="8.6" fill="#363a45" text-anchor="middle" textLength="14.87" lengthAdjust="spacing" stroke="#363a45" stroke-width="0.1">Sep</text>
<text x="144" y="545.7" font-size="8.4" fill="#131722" text-anchor="middle" stroke="#131722" stroke-width="0.35" textLength="17.94" lengthAdjust="spacingAndGlyphs">2020</text>
<text transform="scale(0.88,1)" x="225.00" y="545.7" font-size="8.6" fill="#363a45" text-anchor="middle" textLength="13.00" lengthAdjust="spacing" stroke="#363a45" stroke-width="0.1">Apr</text>
<text transform="scale(0.88,1)" x="286.36" y="545.7" font-size="8.6" fill="#363a45" text-anchor="middle" textLength="10.68" lengthAdjust="spacing" stroke="#363a45" stroke-width="0.1">Jul</text>
<text transform="scale(0.88,1)" x="347.16" y="545.7" font-size="8.6" fill="#363a45" text-anchor="middle" textLength="13.00" lengthAdjust="spacing" stroke="#363a45" stroke-width="0.1">Oct</text>
<text x="359.5" y="545.7" font-size="8.4" fill="#131722" text-anchor="middle" stroke="#131722" stroke-width="0.35" textLength="17.94" lengthAdjust="spacingAndGlyphs">2021</text>
<text transform="scale(0.88,1)" x="470.11" y="545.7" font-size="8.6" fill="#363a45" text-anchor="middle" textLength="13.00" lengthAdjust="spacing" stroke="#363a45" stroke-width="0.1">Apr</text>
<text transform="scale(0.88,1)" x="531.25" y="545.7" font-size="8.6" fill="#363a45" text-anchor="middle" textLength="10.68" lengthAdjust="spacing" stroke="#363a45" stroke-width="0.1">Jul</text>
<text transform="scale(0.88,1)" x="592.05" y="545.7" font-size="8.6" fill="#363a45" text-anchor="middle" textLength="13.00" lengthAdjust="spacing" stroke="#363a45" stroke-width="0.1">Oct</text>
<text x="575.5" y="545.7" font-size="8.4" fill="#131722" text-anchor="middle" stroke="#131722" stroke-width="0.35" textLength="17.94" lengthAdjust="spacingAndGlyphs">2022</text>
<text transform="scale(0.88,1)" x="714.77" y="545.7" font-size="8.6" fill="#363a45" text-anchor="middle" textLength="13.00" lengthAdjust="spacing" stroke="#363a45" stroke-width="0.1">Apr</text>
<text transform="scale(0.88,1)" x="776.14" y="545.7" font-size="8.6" fill="#363a45" text-anchor="middle" textLength="10.68" lengthAdjust="spacing" stroke="#363a45" stroke-width="0.1">Jul</text>
<text transform="scale(0.88,1)" x="837.16" y="545.7" font-size="8.6" fill="#363a45" text-anchor="middle" textLength="13.00" lengthAdjust="spacing" stroke="#363a45" stroke-width="0.1">Oct</text>
<text x="790.8" y="545.7" font-size="8.4" fill="#131722" text-anchor="middle" stroke="#131722" stroke-width="0.35" textLength="17.94" lengthAdjust="spacingAndGlyphs">2023</text>
<text transform="scale(0.88,1)" x="959.89" y="545.7" font-size="8.6" fill="#363a45" text-anchor="middle" textLength="13.00" lengthAdjust="spacing" stroke="#363a45" stroke-width="0.1">Apr</text>
<text transform="scale(0.88,1)" x="1020.45" y="545.7" font-size="8.6" fill="#363a45" text-anchor="middle" textLength="10.68" lengthAdjust="spacing" stroke="#363a45" stroke-width="0.1">Jul</text>
<text transform="scale(0.88,1)" x="1082.39" y="545.7" font-size="8.6" fill="#363a45" text-anchor="middle" textLength="13.00" lengthAdjust="spacing" stroke="#363a45" stroke-width="0.1">Oct</text>
<text x="1006.6" y="545.7" font-size="8.4" fill="#131722" text-anchor="middle" stroke="#131722" stroke-width="0.35" textLength="17.94" lengthAdjust="spacingAndGlyphs">2024</text>
<text transform="scale(0.88,1)" x="1205.00" y="545.7" font-size="8.6" fill="#363a45" text-anchor="middle" textLength="13.00" lengthAdjust="spacing" stroke="#363a45" stroke-width="0.1">Apr</text>
<text transform="scale(0.88,1)" x="1265.91" y="545.7" font-size="8.6" fill="#363a45" text-anchor="middle" textLength="10.68" lengthAdjust="spacing" stroke="#363a45" stroke-width="0.1">Jul</text>
<text transform="scale(0.86,1)" x="13.95" y="30.2" font-size="8.8" fill="#131722" textLength="140.70" lengthAdjust="spacing" stroke="#131722" stroke-width="0.1">Harmony / TetherUS, 1W, BINANCE</text>
<text transform="scale(0.86,1)" x="160.70" y="30.2" font-size="8.8" fill="#131722" textLength="6.74" lengthAdjust="spacing" stroke="#131722" stroke-width="0.1">O</text>
<text transform="scale(0.86,1)" x="168.02" y="30.2" font-size="8.8" fill="#f23645" textLength="31.63" lengthAdjust="spacing" stroke="#f23645" stroke-width="0.1">0.01629</text>
<text transform="scale(0.86,1)" x="205.35" y="30.2" font-size="8.8" fill="#131722" textLength="5.58" lengthAdjust="spacing" stroke="#131722" stroke-width="0.1">H</text>
<text transform="scale(0.86,1)" x="211.40" y="30.2" font-size="8.8" fill="#f23645" textLength="31.63" lengthAdjust="spacing" stroke="#f23645" stroke-width="0.1">0.01725</text>
<text transform="scale(0.86,1)" x="249.07" y="30.2" font-size="8.8" fill="#131722" textLength="3.95" lengthAdjust="spacing" stroke="#131722" stroke-width="0.1">L</text>
<text transform="scale(0.86,1)" x="253.26" y="30.2" font-size="8.8" fill="#f23645" textLength="31.63" lengthAdjust="spacing" stroke="#f23645" stroke-width="0.1">0.01588</text>
<text transform="scale(0.86,1)" x="291.40" y="30.2" font-size="8.8" fill="#131722" textLength="5.12" lengthAdjust="spacing" stroke="#131722" stroke-width="0.1">C</text>
<text transform="scale(0.86,1)" x="296.74" y="30.2" font-size="8.8" fill="#f23645" textLength="31.63" lengthAdjust="spacing" stroke="#f23645" stroke-width="0.1">0.01593</text>
<text transform="scale(0.86,1)" x="334.19" y="30.2" font-size="8.8" fill="#f23645" textLength="74.65" lengthAdjust="spacing" stroke="#f23645" stroke-width="0.1">−0.00037 (−2.27%)</text>
<g fill="#131722"><path d="M6.7,560.1 H11.3 V566.2 H9.1 V562.3 H6.7 Z"/><circle cx="13.7" cy="561.2" r="1.15"/><path d="M15.8,560.1 H18.9 L16.6,566.2 H14.2 Z"/></g>
<text transform="scale(0.86,1)" x="25.58" y="566.2" font-size="9.0" fill="#4a4a4a" textLength="53.14" lengthAdjust="spacing" stroke="#4a4a4a" stroke-width="0.1">TradingView</text>
</svg></body></html>
